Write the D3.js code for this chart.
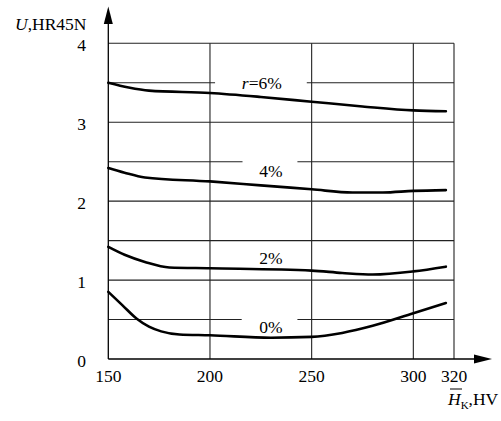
<!DOCTYPE html>
<html><head><meta charset="utf-8">
<script src="https://cdn.jsdelivr.net/npm/d3@7"></script>
<style>body{margin:0;background:#fff}svg{display:block}</style>
</head><body><div id="chart"></div>
<script>
const xTicks = [150, 200, 250, 300, 320];
const yTicks = [0, 1, 2, 3, 4];
const yGrid = [0.5, 1, 1.5, 2, 2.5, 3, 3.5, 4];
const seriesNames = ["r=6%", "4%", "2%", "0%"];
const s6 = [[150,3.50],[160,3.44],[170,3.40],[200,3.37],[225,3.32],[250,3.26],[275,3.20],[300,3.15],[316,3.14]];
const s4 = [[150,2.42],[158,2.36],[168,2.30],[200,2.25],[225,2.20],[250,2.15],[270,2.11],[285,2.11],[300,2.13],[316,2.14]];
const s2 = [[150,1.42],[158,1.32],[168,1.23],[180,1.16],[200,1.15],[250,1.12],[265,1.09],[280,1.07],[300,1.11],[316,1.17]];
const s0 = [[150,0.85],[157,0.68],[164,0.51],[170,0.41],[176,0.35],[185,0.31],[200,0.30],[230,0.27],[250,0.28],[265,0.33],[280,0.42],[300,0.58],[316,0.71]];
const labelPos = [[225.5,3.5],[230,2.38],[230,1.28],[230,0.41]];
const gapSpan = [[202.5,247.6],[216,243],null,[215.6,243]];
const gapLevel = [3.5, 2.5, null, 0.5];

const FONT = '"Liberation Serif","Times New Roman","DejaVu Serif",serif';
const W = 501, H = 421;
const svg = d3.select("#chart").append("svg").attr("width", W).attr("height", H)
  .attr("font-family", FONT);
const x = d3.scaleLinear().domain([150, 320]).range([108.3, 454]);
const y = d3.scaleLinear().domain([0, 4]).range([359, 43.3]);

// grid
const g = svg.append("g").attr("stroke", "#222").attr("stroke-width", 1.1);
yGrid.forEach(v => g.append("line").attr("x1", x(150)).attr("x2", x(320)).attr("y1", y(v)).attr("y2", y(v)));
xTicks.filter(v => v > 150).forEach(v => g.append("line").attr("x1", x(v)).attr("x2", x(v)).attr("y1", y(0)).attr("y2", y(4)));

// gaps in grid lines for labels
gapSpan.forEach((s, i) => {
  if (!s) return;
  svg.append("rect").attr("x", x(s[0])).attr("width", x(s[1]) - x(s[0]))
    .attr("y", y(gapLevel[i]) - 2).attr("height", 4).attr("fill", "#fff");
});

// axes
const ax = svg.append("g").attr("stroke", "#000").attr("stroke-width", 1.3);
ax.append("line").attr("x1", x(150)).attr("x2", 478).attr("y1", y(0)).attr("y2", y(0));
ax.append("line").attr("x1", x(150)).attr("x2", x(150)).attr("y1", y(0)).attr("y2", 20);
svg.append("path").attr("d", `M${x(150)},6.5 L${x(150)-4.5},24 L${x(150)+4.5},24 Z`).attr("fill", "#000");
svg.append("path").attr("d", `M492,${y(0)} L474,${y(0)-4.5} L474,${y(0)+4.5} Z`).attr("fill", "#000");

// tick labels
svg.append("g").selectAll("text").data(xTicks).join("text")
  .attr("x", d => x(d)).attr("y", 382).attr("text-anchor", "middle")
  .attr("font-size", 17.5).text(d => d);
svg.append("g").selectAll("text").data(yTicks).join("text")
  .attr("x", 86).attr("y", d => y(d) + 8).attr("text-anchor", "end")
  .attr("font-size", 17.5).text(d => d);

// curves
const line = d3.line().x(d => x(d[0])).y(d => y(d[1])).curve(d3.curveMonotoneX);
[s6, s4, s2, s0].forEach(s => svg.append("path").attr("d", line(s))
  .attr("fill", "none").attr("stroke", "#000").attr("stroke-width", 2.6).attr("stroke-linecap", "round"));

// series labels
seriesNames.forEach((n, i) => {
  const t = svg.append("text").attr("x", x(labelPos[i][0])).attr("y", y(labelPos[i][1]) + 6)
    .attr("text-anchor", "middle").attr("font-size", 17.5);
  if (n.startsWith("r=")) {
    t.append("tspan").attr("font-style", "italic").text("r");
    t.append("tspan").text(n.slice(1));
  } else t.text(n);
});

// axis titles
const yt = svg.append("text").attr("x", 15).attr("y", 30).attr("font-size", 17.5);
yt.append("tspan").attr("font-style", "italic").text("U");
yt.append("tspan").text(",HR45N");
const xt = svg.append("text").attr("x", 448).attr("y", 405).attr("font-size", 17.5);
xt.append("tspan").attr("font-style", "italic").text("H");
xt.append("tspan").attr("font-size", 11).attr("dy", 4).text("K");
xt.append("tspan").attr("dy", -4).text(",HV");
svg.append("line").attr("x1", 450).attr("x2", 462).attr("y1", 389).attr("y2", 389).attr("stroke", "#000").attr("stroke-width", 1);
</script></body></html>
